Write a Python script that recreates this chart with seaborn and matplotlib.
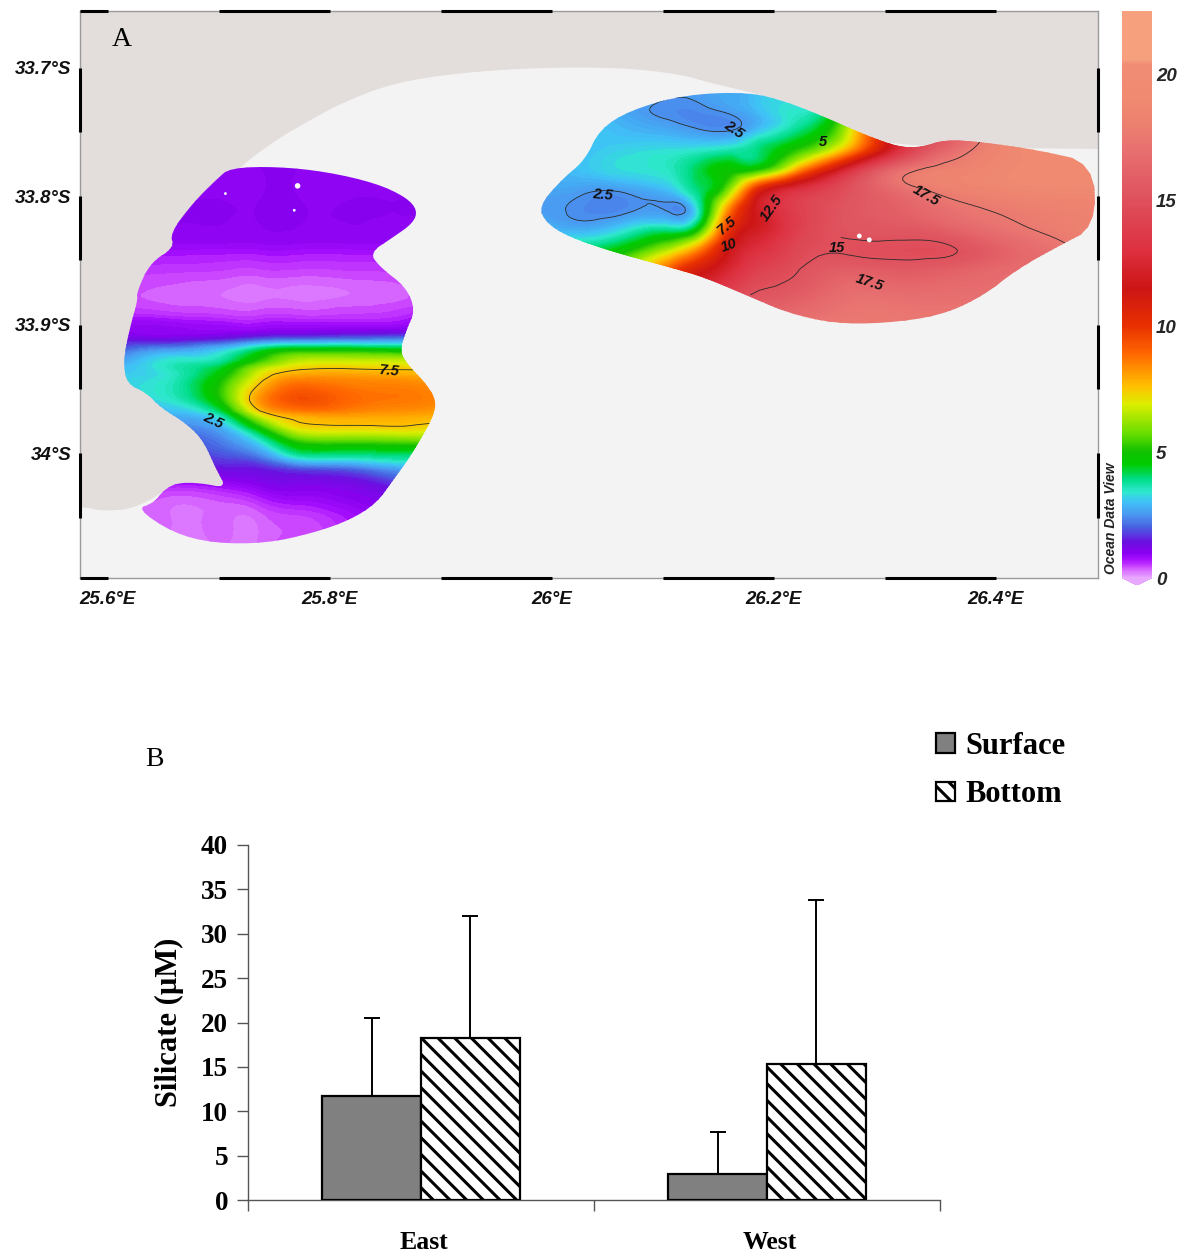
import numpy as np
import pandas as pd
import matplotlib
matplotlib.use("Agg")
import matplotlib.pyplot as plt
import matplotlib.tri as mtri
from matplotlib.colors import LinearSegmentedColormap, Normalize
from matplotlib.cm import ScalarMappable
from matplotlib.patches import Polygon, Patch, Rectangle
import seaborn as sns

# ---------- Panel A data (longitude E, latitude S, silicate uM) ----------
west_lons = [25.611, 25.656, 25.701, 25.737, 25.773, 25.818, 25.863, 25.899]
west_lats = [33.776, 33.803, 33.834, 33.846, 33.861, 33.877, 33.893, 33.904, 33.912, 33.920, 33.928, 33.935,
             33.943, 33.956, 33.967, 33.974, 33.982, 33.992, 34.003, 34.013, 34.029, 34.048, 34.072]
west_values = [
    [1, 1, 1, 1, 1, 1, 1, 1],
    [1, 1, 1, 1, 1, 1, 1, 1],
    [.95, .95, .95, .95, .95, .95, .95, 1.05],
    [.7, .7, .68, .68, .68, .68, .7, .8],
    [.5, .48, .45, .42, .42, .45, .48, .55],
    [.42, .36, .3, .26, .26, .3, .36, .5],
    [.62, .58, .52, .5, .5, .52, .58, .75],
    [1, .92, .88, .9, .95, 1, 1.05, 1.2],
    [1.4, 1.35, 1.6, 2.1, 2.3, 2.4, 2.5, 2.6],
    [2, 2.6, 3.1, 4.2, 4.9, 4.9, 4.7, 4.5],
    [2.6, 3.4, 3.7, 5.2, 6.5, 6.6, 6.6, 6.6],
    [3, 3.5, 4.4, 6.5, 7.5, 7.6, 7.5, 7.3],
    [3.2, 3.5, 4.9, 7.3, 8.5, 8.4, 8.3, 8.1],
    [3.0, 3.5, 5.1, 8.2, 9.4, 8.9, 8.7, 8.5],
    [2.6, 3.0, 4.1, 7.5, 8.6, 8.5, 8.3, 8.1],
    [2.3, 2.6, 3.2, 6, 7.6, 7.8, 7.8, 7.6],
    [2, 2.2, 2.6, 4.5, 6.8, 7.0, 7.1, 7],
    [1.7, 1.9, 2.2, 3.2, 5, 5.2, 5.3, 5.2],
    [1.3, 1.6, 1.8, 2.2, 3.5, 3.6, 3.8, 3.8],
    [1.1, 1.2, 1.3, 1.4, 1.7, 1.9, 2.5, 2.6],
    [.6, .5, .6, .85, 1, 1.1, 1.4, 1.5],
    [.3, .3, .32, .36, .5, .75, 1.0, 1.2],
    [.3, .3, .3, .32, .45, .7, .95, 1.1],
]
east_lons = [25.985, 26.025, 26.066, 26.106, 26.133, 26.160, 26.187, 26.223, 26.268, 26.314, 26.359, 26.404, 26.449, 26.494]
east_lats = [33.717, 33.733, 33.748, 33.764, 33.780, 33.795, 33.811, 33.826, 33.842, 33.857, 33.881, 33.904]
east_values = [
    [3.1, 3.1, 2.9, 2.6, 2.6, 2.7, 3.0, 3.3, 4.6, 9, 14, 18.5, 19, 19],
    [3.1, 3.1, 2.7, 2.42, 2.42, 2.6, 3.0, 3.4, 5.0, 10, 15, 18.6, 19.2, 19.2],
    [3.1, 3.1, 2.9, 2.7, 2.5, 2.45, 3.0, 3.9, 6.7, 12.5, 15.5, 18.7, 19.2, 19.2],
    [3.0, 3.0, 3.2, 3.3, 3.4, 3.6, 4.0, 5.2, 8, 13, 16.5, 18.5, 19, 19.2],
    [2.9, 3.0, 3.3, 3.5, 4.2, 4.8, 5.2, 8.3, 12.8, 16.8, 18.2, 18.8, 19, 19],
    [2.7, 2.6, 2.6, 3.0, 4.0, 6, 10.5, 13, 15, 16.8, 18, 18.5, 18.8, 18.8],
    [2.6, 2.42, 2.42, 2.45, 3.6, 8.5, 12, 14, 15.3, 16, 17, 17.6, 18, 18.2],
    [3, 2.8, 3.3, 3.8, 5, 10, 12, 14, 15.2, 15.4, 16, 17, 17.7, 18.2],
    [3.5, 4, 4.8, 6.5, 8.5, 11.5, 13, 14.5, 14.9, 14.8, 14.9, 16, 17, 18],
    [4, 4.5, 6, 9, 11, 12.5, 14, 15, 15.8, 15.6, 15.9, 16.5, 17, 17.5],
    [4, 5, 6, 10, 13, 14.5, 15.5, 16, 17, 17, 17, 17, 17.5, 17.5],
    [4, 5, 6, 11, 13, 15, 16.5, 17.5, 17.5, 17.5, 17.5, 17.5, 17.5, 17.5],
]
west_outline = [
    (25.710, 33.778), (25.752, 33.777), (25.797, 33.781), (25.842, 33.790), (25.869, 33.801), (25.879, 33.811),
    (25.875, 33.821), (25.857, 33.832), (25.836, 33.844), (25.845, 33.855), (25.869, 33.871), (25.877, 33.889),
    (25.869, 33.904), (25.863, 33.920), (25.869, 33.930), (25.887, 33.946), (25.896, 33.959), (25.893, 33.972),
    (25.881, 33.990), (25.872, 34.003), (25.857, 34.021), (25.842, 34.039), (25.818, 34.052), (25.785, 34.062),
    (25.743, 34.070), (25.695, 34.070), (25.659, 34.062), (25.626, 34.043), (25.641, 34.039), (25.650, 34.029),
    (25.662, 34.023), (25.683, 34.023), (25.707, 34.027), (25.698, 34.013), (25.686, 33.990), (25.671, 33.977),
    (25.647, 33.964), (25.635, 33.953), (25.617, 33.946), (25.614, 33.928), (25.620, 33.902), (25.627, 33.881),
    (25.626, 33.875), (25.638, 33.852), (25.660, 33.840), (25.656, 33.829), (25.677, 33.805), (25.698, 33.787),
]
east_outline = [
    (25.988, 33.808), (26.009, 33.787), (26.030, 33.772), (26.043, 33.748), (26.071, 33.733), (26.120, 33.721),
    (26.178, 33.719), (26.213, 33.727), (26.247, 33.739), (26.281, 33.752), (26.313, 33.762), (26.333, 33.762),
    (26.354, 33.756), (26.388, 33.758), (26.437, 33.764), (26.488, 33.774), (26.490, 33.824), (26.454, 33.840),
    (26.419, 33.857), (26.388, 33.878), (26.350, 33.893), (26.299, 33.899), (26.254, 33.899), (26.213, 33.891),
    (26.178, 33.878), (26.137, 33.863), (26.109, 33.856), (26.092, 33.852), (26.054, 33.843), (26.016, 33.832),
    (25.995, 33.821),
]
land_outline = [
    (24.000, 33.000), (28.000, 33.000), (28.000, 33.764), (26.600, 33.764), (26.313, 33.762), (26.281, 33.752),
    (26.247, 33.739), (26.213, 33.727), (26.178, 33.719), (26.143, 33.712), (26.115, 33.705), (26.061, 33.700),
    (25.989, 33.700), (25.917, 33.704), (25.857, 33.712), (25.812, 33.727), (25.782, 33.741), (25.752, 33.756),
    (25.719, 33.777), (25.690, 33.805), (25.700, 33.830), (25.773, 33.881), (25.710, 34.013), (25.707, 34.027),
    (25.662, 34.023), (25.626, 34.043), (25.593, 34.045), (25.577, 34.041), (25.500, 34.045), (24.000, 34.045),
]
speck_lons = [25.771, 25.706, 25.768, 26.277, 26.286]
speck_lats = [33.792, 33.798, 33.811, 33.831, 33.834]
speck_sizes = [16, 4, 4, 12, 12]
contour_labels = [
    ("7.5", 25.854, 33.936, -5), ("2.5", 25.695, 33.975, -25), ("2.5", 26.164, 33.748, -35),
    ("5", 26.244, 33.758, 0), ("2.5", 26.046, 33.799, -5), ("7.5", 26.158, 33.823, 40),
    ("10", 26.160, 33.838, 20), ("12.5", 26.198, 33.809, 55), ("17.5", 26.337, 33.800, -30),
    ("15", 26.257, 33.840, 0), ("17.5", 26.286, 33.867, -18),
]
lon_ticks = [25.6, 25.8, 26.0, 26.2, 26.4]
lon_labels = ["25.6°E", "25.8°E", "26°E", "26.2°E", "26.4°E"]
lat_ticks = [33.7, 33.8, 33.9, 34.0]
lat_labels = ["33.7°S", "33.8°S", "33.9°S", "34°S"]
lon_bars = [(25.575, 25.6), (25.7, 25.8), (25.9, 26.0), (26.1, 26.2), (26.3, 26.4)]
lat_bars = [(33.7, 33.75), (33.8, 33.85), (33.9, 33.95), (34.0, 34.05)]
cbar_ticks = [0, 5, 10, 15, 20]
cmap_stops = [
    (0, "#E8A8FF"), (.4, "#D050FF"), (.7, "#A810FF"), (1.0, "#8800F0"), (1.4, "#6A10E0"), (2, "#4860E0"),
    (2.5, "#4A98F0"), (3, "#40C0F8"), (3.4, "#30E8D0"), (3.9, "#00DD88"), (4.5, "#00CC00"), (5, "#10C000"),
    (5.7, "#66DD00"), (6.9, "#DDEE00"), (7.6, "#FFC000"), (8.9, "#FF6600"), (10, "#E83000"), (11.5, "#CC1515"),
    (13, "#DD3040"), (15.3, "#DF5560"), (17, "#E87070"), (18, "#EC8070"), (19, "#F08A70"), (20.4, "#F08D75"),
    (20.6, "#F6A07E"), (22.5, "#F6A07E"),
]

# ---------- Panel B data ----------
regions = ["East", "East", "West", "West"]
depths = ["Surface", "Bottom", "Surface", "Bottom"]
silicate = [11.7, 18.25, 2.95, 15.3]
silicate_err = [8.8, 13.75, 4.7, 18.5]
y_ticks = [0, 5, 10, 15, 20, 25, 30, 35, 40]

# ---------- Style ----------
sns.set_theme(style="white")
SANS = "Liberation Sans"
SERIF = "Liberation Serif"
plt.rcParams["font.family"] = [SANS, "DejaVu Sans"]
plt.rcParams["hatch.linewidth"] = 2.2
plt.rcParams["text.color"] = "black"
W, H = 1188, 1254
fig = plt.figure(figsize=(W / 100, H / 100), dpi=100, facecolor="white")

def box(x0, y0, x1, y1):
    return [x0 / W, 1 - y1 / H, (x1 - x0) / W, (y1 - y0) / H]

def soften(points, rounds=2):
    """Round the corners of a traced coastline so it draws as a curve."""
    pts = np.asarray(points, float)
    for _ in range(rounds):
        nxt = np.roll(pts, -1, axis=0)
        pts = np.column_stack([0.75 * pts + 0.25 * nxt, 0.25 * pts + 0.75 * nxt]).reshape(-1, 2)
    return pts

# ---------- Map ----------
ax = fig.add_axes(box(80, 11, 1098, 578))
ax.set_xlim(25.575, 26.492)
ax.set_ylim(34.097, 33.656)
ax.set_facecolor("#F3F3F3")
for s in ax.spines.values():
    s.set_color("#9a9a9a")
    s.set_linewidth(1)
ax.add_patch(Polygon(soften(land_outline), closed=True, facecolor="#E3DDDB", edgecolor="none", zorder=1))

cmap = LinearSegmentedColormap.from_list("odv", [(v / 22.5, c) for v, c in cmap_stops], N=512)
norm = Normalize(0, 22.5)
levels = np.linspace(0, 22.5, 226)

def draw_region(lons, lats, vals, outline, lines, line_clip=None):
    patch = Polygon(soften(outline), closed=True, facecolor="none", edgecolor="none", zorder=2)
    ax.add_patch(patch)
    ny, nx = len(lats), len(lons)
    # refine on the evenly spaced grid index, with one diagonal direction, then place on the map
    jj, ii = np.meshgrid(np.arange(ny), np.arange(nx), indexing="ij")
    node = jj * nx + ii
    a, b, c, d = node[:-1, :-1].ravel(), node[:-1, 1:].ravel(), node[1:, 1:].ravel(), node[1:, :-1].ravel()
    faces = np.vstack([np.column_stack([a, b, c]), np.column_stack([a, c, d])])
    tri = mtri.Triangulation(ii.ravel().astype(float), jj.ravel().astype(float), faces)
    tri_f, z_f = mtri.UniformTriRefiner(tri).refine_field(np.asarray(vals, float).ravel(), subdiv=3)
    placed = mtri.Triangulation(np.interp(tri_f.x, np.arange(nx), lons),
                                np.interp(tri_f.y, np.arange(ny), lats), tri_f.triangles)
    cf = ax.tricontourf(placed, z_f, levels=levels, cmap=cmap, norm=norm, extend="both",
                        antialiased=False, zorder=2)
    cf.set_clip_path(patch)
    for lev in lines:
        cl = ax.tricontour(placed, z_f, levels=[lev], colors="#2a2a2a", linewidths=0.6, zorder=3)
        cl.set_clip_path(patch)
        if line_clip is not None and lev in line_clip:
            rect = Rectangle(line_clip[lev][0], *line_clip[lev][1], transform=ax.transData)
            cl.set_clip_path(rect)

draw_region(west_lons, west_lats, west_values, west_outline, [7.5])
draw_region(east_lons, east_lats, east_values, east_outline, [2.5, 15, 17.5],
            line_clip={15: ((26.12, 33.832), (0.30, 0.045))})

ax.scatter(speck_lons, speck_lats, s=speck_sizes, color="white", linewidths=0, zorder=4)
for txt, lon, lat, rot in contour_labels:
    ax.text(lon, lat, txt, rotation=rot, ha="center", va="center", fontsize=10.5,
            fontweight="bold", fontstyle="italic", color="#111", zorder=5)

for a, b in lon_bars:
    ax.plot([a, b], [33.656, 33.656], color="black", lw=2.2, clip_on=False, zorder=6, solid_capstyle="butt")
    ax.plot([a, b], [34.097, 34.097], color="black", lw=2.2, clip_on=False, zorder=6, solid_capstyle="butt")
for a, b in lat_bars:
    ax.plot([25.575, 25.575], [a, b], color="black", lw=2.2, clip_on=False, zorder=6, solid_capstyle="butt")
    ax.plot([26.492, 26.492], [a, b], color="black", lw=2.2, clip_on=False, zorder=6, solid_capstyle="butt")

ax.set_xticks(lon_ticks, lon_labels)
ax.set_yticks(lat_ticks, lat_labels)
ax.tick_params(axis="both", length=0, colors="#111")
ax.tick_params(axis="x", pad=9)
ax.tick_params(axis="y", pad=6)
for t in ax.get_xticklabels() + ax.get_yticklabels():
    t.set_fontsize(13.5)
    t.set_fontweight("bold")
    t.set_fontstyle("italic")
fig.text(122 / W, 1 - 40 / H, "A", family=SERIF, fontsize=20, ha="center", va="center",
         color="black", zorder=7)

# ---------- Colour bar ----------
cax = fig.add_axes(box(1122, 11, 1152, 585))
cb = fig.colorbar(ScalarMappable(norm=norm, cmap=cmap), cax=cax, ticks=cbar_ticks,
                  extend="min", extendfrac=0.0123)
cb.outline.set_visible(False)
cax.tick_params(axis="y", length=0, pad=3)
for t in cax.get_yticklabels():
    t.set_fontsize(13.5)
    t.set_fontweight("bold")
    t.set_fontstyle("italic")
fig.text(1111 / W, 1 - 518 / H, "Ocean Data View", rotation=90, ha="center", va="center",
         fontsize=10, fontstyle="italic", fontweight="bold", color="#222")

# ---------- Bars ----------
bx = fig.add_axes(box(248, 845, 940, 1200))
df = pd.DataFrame({"Region": regions, "Depth": depths, "Silicate": silicate, "Err": silicate_err})
sns.barplot(data=df, x="Region", y="Silicate", hue="Depth", hue_order=["Surface", "Bottom"],
            palette={"Surface": "#808080", "Bottom": "white"}, width=0.572, gap=0, errorbar=None,
            edgecolor="black", linewidth=1.6, legend=False, ax=bx, zorder=3, saturation=1)
bars = bx.patches
for b in bars:
    if b.get_facecolor()[0] > 0.9:
        b.set_hatch("\\\\")
for b in bars:
    if b.get_height() == 0:
        continue
    v = b.get_height()
    err = df.loc[np.isclose(df["Silicate"], v), "Err"].iloc[0]
    bx.errorbar(b.get_x() + b.get_width() / 2, v, yerr=[[0], [err]], color="black",
                elinewidth=1.4, capsize=5.5, capthick=1.4, zorder=2)
bx.set_xlim(-0.5, 1.5)
bx.set_ylim(0, 40)
bx.set_xlabel("")
bx.set_ylabel("Silicate (µM)", family=SERIF, fontsize=22, fontweight="bold", labelpad=12.3, color="black")
bx.set_yticks(y_ticks)
bx.set_xticks([-0.5, 0.5, 1.5], ["", "", ""])
bx.set_xticks([0.009, 1.009], ["East", "West"], minor=True)
bx.tick_params(axis="x", which="major", length=8, width=1, color="#555", bottom=True)
bx.tick_params(axis="x", which="minor", length=0, pad=22, bottom=True)
bx.tick_params(axis="y", length=8, width=1, color="#555", left=True, pad=6.3)
for t in bx.get_xticklabels(minor=True):
    t.set_family(SERIF); t.set_fontsize(18.5); t.set_fontweight("bold"); t.set_color("black")
for t in bx.get_yticklabels():
    t.set_family(SERIF); t.set_fontsize(19.5); t.set_fontweight("bold"); t.set_color("black")
sns.despine(ax=bx, top=True, right=True)
for s in ("left", "bottom"):
    bx.spines[s].set_color("#555")
    bx.spines[s].set_linewidth(1)
fig.text(154 / W, 1 - 760 / H, "B", family=SERIF, fontsize=20, ha="center", va="center", color="black")
handles = [Patch(facecolor="#808080", edgecolor="black", linewidth=1.6),
           Patch(facecolor="white", edgecolor="black", linewidth=1.6, hatch="\\\\")]
fig.legend(handles, ["Surface", "Bottom"], loc="upper left", bbox_to_anchor=(936 / W, 1 - 732 / H),
           frameon=False, borderpad=0, borderaxespad=0, handlelength=0.62, handleheight=0.62,
           handletextpad=0.33, labelspacing=0.63, labelcolor="black",
           prop={"family": SERIF, "size": 22, "weight": "bold"})

fig.savefig("out.png", dpi=100, facecolor="white")
